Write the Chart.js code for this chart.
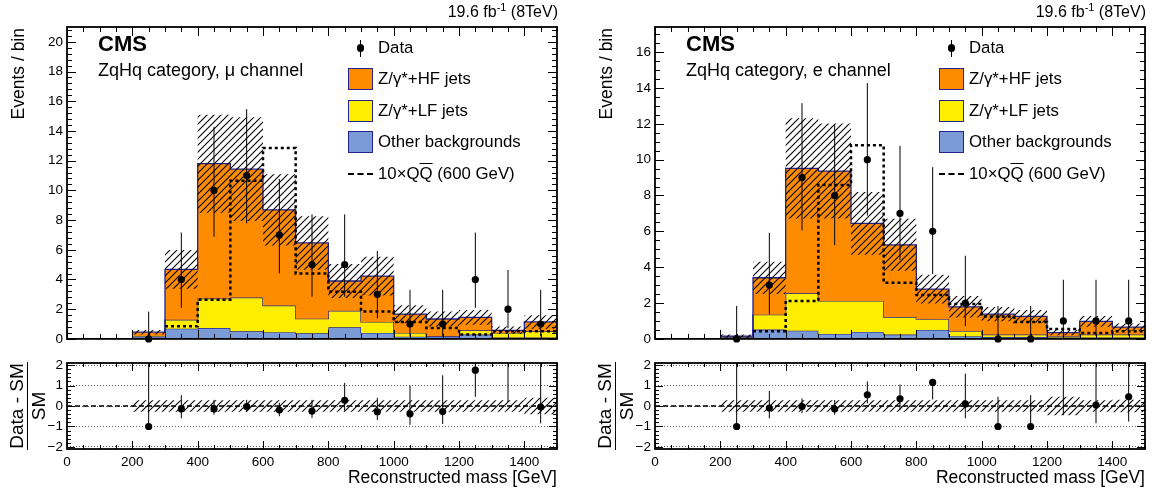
<!DOCTYPE html>
<html>
<head>
<meta charset="utf-8">
<script src="https://cdn.jsdelivr.net/npm/chart.js@4.4.1/dist/chart.umd.min.js"></script>
<style>
body { margin:0; width:1152px; height:492px; background:#fff; position:relative; overflow:hidden;
       font-family:"Liberation Sans", Arial, Helvetica, sans-serif; color:#000; }
canvas { position:absolute; }
.t { position:absolute; white-space:nowrap; line-height:20px; height:20px; }
.t sup { font-size:11px; line-height:0; }
</style>
</head>
<body>
<canvas id="muMain" width="575" height="351" style="left:0;top:0"></canvas>
<canvas id="muRatio" width="575" height="142" style="left:0;top:350px"></canvas>
<canvas id="eMain" width="564" height="351" style="left:588px;top:0"></canvas>
<canvas id="eRatio" width="564" height="142" style="left:588px;top:350px"></canvas>
<script>
// binning / ticks
const massEdges = [0,100,200,300,400,500,600,700,800,900,1000,1100,1200,1300,1400,1500];
const massTicks = [0,200,400,600,800,1000,1200,1400];
const muEventTicks = [0,2,4,6,8,10,12,14,16,18,20];
const eEventTicks = [0,2,4,6,8,10,12,14,16];
const ratioTicks = [-2,-1,0,1,2];

// mu channel (one value per 100 GeV bin)
const muOther  = [null,null,0.15,0.69,0.73,0.51,0.45,0.38,0.78,0.40,0.15,0.15,0.29,0.10,0.10];
const muLF     = [null,null,0.05,0.60,1.99,2.27,1.80,0.98,1.11,0.74,0.25,0.03,0.29,0.30,0.41];
const muHF     = [null,null,0.25,3.39,9.08,8.65,6.44,5.10,2.01,3.09,1.27,1.16,0.87,0.18,0.63];
const muUnc    = [null,null,0.15,1.30,3.30,3.50,2.40,1.80,1.15,1.30,0.60,0.50,0.50,0.25,0.45];
const muSignal = [null,null,null,0.85,2.63,10.65,12.85,4.41,3.18,1.85,1.14,0.73,0.29,0.51,0.51];
const muData   = [null,null,0,4,10,11,7,5,5,3,1,1,4,2,1];
const muDataLo = [null,null,0,2.09,6.88,7.78,4.41,2.84,2.84,1.37,0.17,0.17,2.09,0.71,0.17];
const muDataHi = [null,null,1.84,7.16,14.27,15.47,10.77,8.38,8.38,5.92,3.30,3.30,7.16,4.64,3.30];
const muRatio   = [null,null,-1,-0.15,-0.15,-0.03,-0.2,-0.25,0.28,-0.28,-0.38,-0.27,1.75,null,-0.05];
const muRatioLo = [null,null,-1,-0.6,-0.42,-0.3,-0.5,-0.58,-0.25,-0.68,-0.92,-0.88,0.45,0.2,-0.85];
const muRatioHi = [null,null,2.2,0.53,0.3,0.3,0.16,0.3,1.13,0.4,1.0,1.5,2.2,2.2,2.2];
const muRatioUnc = [null,null,0.28,0.28,0.28,0.28,0.28,0.28,0.28,0.28,0.28,0.28,0.28,0.28,0.4];

// e channel
const eOther  = [null,null,0.08,0.52,0.46,0.28,0.39,0.24,0.50,0.15,0.10,0.10,0.08,0.08,0.08];
const eLF     = [null,null,0.04,0.83,2.08,1.84,1.73,0.98,0.60,0.28,0.14,0.14,0.07,0.16,0.16];
const eHF     = [null,null,0.03,2.06,6.97,7.24,4.33,4.03,1.68,1.36,1.14,1.02,0.20,0.74,0.42];
const eUnc    = [null,null,0.10,0.90,2.80,2.65,1.75,1.45,0.80,0.60,0.40,0.35,0.15,0.30,0.20];
const eSignal = [null,null,null,0.42,2.12,8.59,10.8,3.13,2.45,1.95,1.25,0.94,0.55,0.33,0.42];
const eData   = [null,null,0,3,9,8,10,7,6,2,0,0,1,1,1];
const eDataLo = [null,null,0,1.37,6.06,5.23,6.88,4.41,3.62,0.71,0,0,0.17,0.17,0.17];
const eDataHi = [null,null,1.84,5.92,13.15,11.98,14.27,10.77,9.58,4.64,1.84,1.84,3.30,3.30,3.30];
const eRatio   = [null,null,-1,-0.1,-0.03,-0.15,0.55,0.35,1.15,0.1,-1,-1,null,0.05,0.45];
const eRatioLo = [null,null,-1,-0.6,-0.35,-0.43,0.13,-0.19,0.32,-0.6,-1,-1,-0.45,-0.84,-0.76];
const eRatioHi = [null,null,2.2,0.74,0.37,0.29,1.2,1.05,1.15,1.58,0.45,0.53,2.2,2.2,2.2];
const eRatioUnc = [null,null,0.28,0.28,0.28,0.28,0.28,0.28,0.28,0.28,0.28,0.28,0.45,0.28,0.3];

const NAVY = '#23238f', ORANGE = '#ff8c00', YELLOW = '#ffee00', BLUE = '#7b9bd6';
const FONT = '"Liberation Sans", Arial, sans-serif';
const centers = massEdges.slice(0, -1).map(e => e + 50);

function hatch() {
  const c = document.createElement('canvas');
  c.width = 7; c.height = 7;
  const g = c.getContext('2d');
  g.strokeStyle = '#000'; g.lineWidth = 1.1;
  g.beginPath();
  g.moveTo(0, 7); g.lineTo(7, 0);
  g.moveTo(-1, 1); g.lineTo(1, -1);
  g.moveTo(6, 8); g.lineTo(8, 6);
  g.stroke();
  return g.createPattern(c, 'repeat');
}
const HATCH = hatch();

// histogram outline: point at each bin's left edge, last value repeated at 1500
function stepPoints(vals) {
  return massEdges.map((e, i) => ({ x: e, y: vals[Math.min(i, vals.length - 1)] }));
}
function addUp(...arrs) {
  return arrs[0].map((v, i) => v == null ? null : arrs.reduce((s, a) => s + a[i], 0));
}
function errorSegments(lo, hi) {
  const pts = [];
  centers.forEach((x, i) => {
    if (lo[i] == null) return;
    pts.push({ x, y: lo[i] }, { x, y: hi[i] }, { x, y: null });
  });
  return pts;
}
function markers(vals) { return centers.map((x, i) => ({ x, y: vals[i] })); }

// inward ticks + frame, ROOT style
const frameTicks = {
  id: 'frameTicks',
  afterDatasetsDraw(chart, args, o) {
    const { ctx, chartArea: a, scales: { x, y } } = chart;
    ctx.save();
    ctx.strokeStyle = '#000'; ctx.lineWidth = 1;
    ctx.beginPath();
    const isMajor = (v, m) => Math.abs(v / m - Math.round(v / m)) < 1e-6;
    for (let k = Math.ceil(x.min / o.xMinor); k * o.xMinor <= x.max + 1e-9; k++) {
      const v = k * o.xMinor, px = Math.round(x.getPixelForValue(v)) + 0.5;
      const len = isMajor(v, o.xMajor) ? o.xMajLen : o.xMinLen;
      ctx.moveTo(px, a.bottom); ctx.lineTo(px, a.bottom - len);
      ctx.moveTo(px, a.top); ctx.lineTo(px, a.top + len);
    }
    for (let k = Math.ceil(y.min / o.yMinor - 1e-9); k * o.yMinor <= y.max + 1e-9; k++) {
      const v = k * o.yMinor, py = Math.round(y.getPixelForValue(v)) + 0.5;
      const len = isMajor(v, o.yMajor) ? o.yMajLen : o.yMinLen;
      ctx.moveTo(a.left, py); ctx.lineTo(a.left + len, py);
      ctx.moveTo(a.right, py); ctx.lineTo(a.right - len, py);
    }
    ctx.stroke();
    ctx.lineWidth = 1.8;
    ctx.strokeRect(a.left, a.top, a.right - a.left, a.bottom - a.top);
    ctx.restore();
  }
};

function baseX(showLabels, h) {
  return {
    type: 'linear', min: 0, max: 1500,
    afterBuildTicks: s => { s.ticks = massTicks.map(v => ({ value: v })); },
    ticks: { display: showLabels, font: { family: FONT, size: 13.5 }, color: '#000', padding: 5, maxRotation: 0,
             callback: v => String(v) },
    grid: { display: false, drawTicks: false },
    border: { display: false },
    afterFit: s => { s.height = h; }
  };
}

function mainChart(id, c) {
  const lfTop = addUp(c.other, c.lf);
  const tot = addUp(c.other, c.lf, c.hf);
  const lo = tot.map((t, i) => t == null ? null : t - c.unc[i]);
  const hi = tot.map((t, i) => t == null ? null : t + c.unc[i]);
  const none = 'rgba(0,0,0,0)';
  new Chart(document.getElementById(id), {
    type: 'line',
    data: {
      datasets: [
        { data: stepPoints(c.other), stepped: 'before', fill: 'origin', backgroundColor: BLUE, borderColor: NAVY, borderWidth: 1.3, order: 7 },
        { data: stepPoints(lfTop), stepped: 'before', fill: '-1', backgroundColor: YELLOW, borderColor: NAVY, borderWidth: 1.3, order: 6 },
        { data: stepPoints(tot), stepped: 'before', fill: '-1', backgroundColor: ORANGE, borderColor: NAVY, borderWidth: 1.3, order: 5 },
        { data: stepPoints(lo), stepped: 'before', fill: false, borderColor: none, order: 4 },
        { data: stepPoints(hi), stepped: 'before', fill: '-1', backgroundColor: HATCH, borderColor: none, order: 3 },
        { data: stepPoints(c.signal), stepped: 'before', fill: false, borderColor: '#000', borderWidth: 2.5, borderDash: [3, 3], order: 2 },
        { data: errorSegments(c.dlo, c.dhi), fill: false, borderColor: '#000', borderWidth: 1, order: 1 },
        { data: markers(c.data), showLine: false, pointRadius: 3.6, pointBackgroundColor: '#000', pointBorderWidth: 0, clip: false, order: 0 }
      ]
    },
    options: {
      responsive: false, animation: false, events: [],
      layout: { padding: { top: 27, right: c.padRight, left: 0, bottom: 0 } },
      elements: { point: { radius: 0 }, line: { tension: 0 } },
      plugins: {
        legend: { display: false }, tooltip: { enabled: false },
        frameTicks: { xMinor: 50, xMajor: 200, xMajLen: 9, xMinLen: 5, yMinor: c.yMinor, yMajor: 2, yMajLen: 9, yMinLen: 5 }
      },
      scales: {
        x: baseX(false, 10),
        y: {
          min: 0, max: c.yMax,
          afterBuildTicks: s => { s.ticks = c.yTicks.map(v => ({ value: v })); },
          ticks: { font: { family: FONT, size: 13.5 }, color: '#000', padding: 4 },
          grid: { display: false, drawTicks: false },
          border: { display: false },
          afterFit: s => { s.width = 67; }
        }
      }
    },
    plugins: [frameTicks]
  });
}

function ratioChart(id, c) {
  const lo = c.unc.map(u => u == null ? null : -u);
  const none = 'rgba(0,0,0,0)';
  new Chart(document.getElementById(id), {
    type: 'line',
    data: {
      datasets: [
        { data: [{ x: 0, y: 0 }, { x: 1500, y: 0 }], fill: false, borderColor: '#000', borderWidth: 1.5, borderDash: [5, 3], order: 6 },
        { data: stepPoints(lo), stepped: 'before', fill: false, borderColor: none, order: 5 },
        { data: stepPoints(c.unc), stepped: 'before', fill: '-1', backgroundColor: HATCH, borderColor: none, order: 4 },
        { data: errorSegments(c.rlo, c.rhi), fill: false, borderColor: '#000', borderWidth: 1, order: 1 },
        { data: markers(c.ratio), showLine: false, pointRadius: 3.6, pointBackgroundColor: '#000', pointBorderWidth: 0, order: 0 }
      ]
    },
    options: {
      responsive: false, animation: false, events: [],
      layout: { padding: { top: 13, right: c.padRight, left: 0, bottom: 0 } },
      elements: { point: { radius: 0 }, line: { tension: 0 } },
      plugins: {
        legend: { display: false }, tooltip: { enabled: false },
        frameTicks: { xMinor: 50, xMajor: 200, xMajLen: 8, xMinLen: 4, yMinor: 0.2, yMajor: 1, yMajLen: 8, yMinLen: 4 }
      },
      scales: {
        x: baseX(true, 43),
        y: {
          min: -2.1, max: 2.1,
          afterBuildTicks: s => { s.ticks = ratioTicks.map(v => ({ value: v })); },
          ticks: { font: { family: FONT, size: 13.5 }, color: '#000', padding: 4,
                   callback: v => v < 0 ? '\u2212' + (-v) : String(v) },
          grid: { display: true, drawTicks: false, color: '#333', lineWidth: 0.8 },
          border: { display: false, dash: [1, 2] },
          afterFit: s => { s.width = 67; }
        }
      }
    },
    plugins: [frameTicks]
  });
}

mainChart('muMain', { other: muOther, lf: muLF, hf: muHF, unc: muUnc, signal: muSignal, data: muData,
  dlo: muDataLo, dhi: muDataHi, yMax: 21, yTicks: muEventTicks, yMinor: 0.4, padRight: 18 });
ratioChart('muRatio', { ratio: muRatio, rlo: muRatioLo, rhi: muRatioHi, unc: muRatioUnc, padRight: 18 });
mainChart('eMain', { other: eOther, lf: eLF, hf: eHF, unc: eUnc, signal: eSignal, data: eData,
  dlo: eDataLo, dhi: eDataHi, yMax: 17.4, yTicks: eEventTicks, yMinor: 0.5, padRight: 7 });
ratioChart('eRatio', { ratio: eRatio, rlo: eRatioLo, rhi: eRatioHi, unc: eRatioUnc, padRight: 7 });

// text overlays
function label(html, style) {
  const d = document.createElement('div');
  d.className = 't';
  d.innerHTML = html;
  Object.assign(d.style, style);
  document.body.appendChild(d);
  return d;
}
function box(style) {
  const d = document.createElement('div');
  d.style.position = 'absolute';
  Object.assign(d.style, style);
  document.body.appendChild(d);
}

function panelText(ox, lx, channel) {
  label('19.6 fb<sup>-1</sup> (8TeV)', { right: (1152 - 558 - ox) + 'px', top: '2px', fontSize: '16px' });
  label('CMS', { left: (98 + ox) + 'px', top: '31px', fontSize: '22px', fontWeight: 'bold', lineHeight: '26px', height: '26px' });
  label('ZqHq category, ' + channel + ' channel', { left: (98 + ox) + 'px', top: '59.5px', fontSize: '18px' });

  // legend
  const bx = 348 + lx, tx = bx + 30;
  box({ left: (bx + 12) + 'px', top: '40px', width: '1px', height: '17px', background: '#000' });
  box({ left: (bx + 8.5) + 'px', top: '44px', width: '7.5px', height: '7.5px', borderRadius: '50%', background: '#000' });
  label('Data', { left: tx + 'px', top: '38px', fontSize: '16.8px' });
  const fills = [[ORANGE, 68, 'Z/\u03b3*+HF jets'], [YELLOW, 99.5, 'Z/\u03b3*+LF jets'], [BLUE, 131, 'Other backgrounds']];
  fills.forEach(([col, top, txt]) => {
    box({ left: bx + 'px', top: top + 'px', width: '25px', height: '22px', boxSizing: 'border-box',
          border: '1.5px solid ' + NAVY, background: col });
    label(txt, { left: tx + 'px', top: (top + 1) + 'px', fontSize: '16.8px' });
  });
  box({ left: bx + 'px', top: '172.5px', width: '25px', height: '0', borderTop: '2.5px dashed #000' });
  label('10\u00d7Q<span style="text-decoration:overline">Q</span> (600 GeV)', { left: tx + 'px', top: '164px', fontSize: '16.8px' });

  // axis titles
  label('Events / bin', { left: (8 + ox) + 'px', top: '228px', width: '200px', textAlign: 'right',
    fontSize: '17.5px', transform: 'rotate(-90deg)', transformOrigin: 'left top' });
  label('Reconstructed mass [GeV]', { right: (1152 - 557 - ox) + 'px', top: '467px', fontSize: '17.5px' });
  const f = document.createElement('div');
  Object.assign(f.style, { position: 'absolute', left: (28 + ox - 60) + 'px', top: (406 - 22) + 'px', width: '120px',
    textAlign: 'center', fontSize: '19px', lineHeight: '21px', transform: 'rotate(-90deg)', transformOrigin: '60px 22px' });
  f.innerHTML = '<span style="display:inline-block;border-bottom:1.5px solid #000;padding:0 1px">Data - SM</span><div>SM</div>';
  document.body.appendChild(f);
}
panelText(0, 0, '\u03bc');
panelText(588, 591, 'e');
</script>
</body>
</html>
